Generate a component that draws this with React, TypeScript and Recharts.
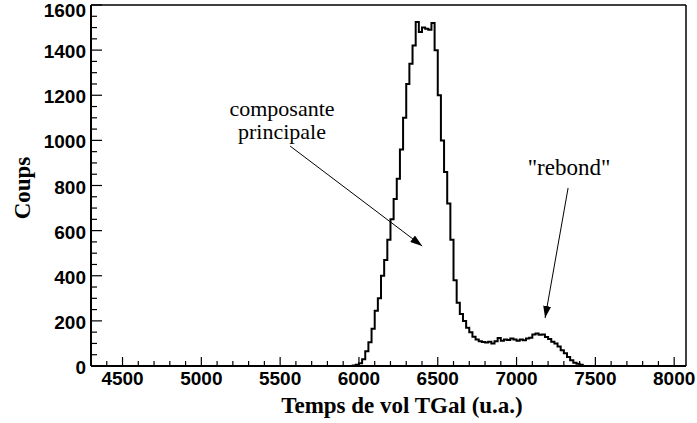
import React from 'react';
import { LineChart, Line, XAxis, YAxis, ReferenceLine } from 'recharts';

// bin start (u.a.), bin width 20
const binStart = [
  5940, 5960, 5980, 6000, 6020, 6040, 6060, 6080, 6100, 6120, 6140, 6160, 6180, 6200, 6220, 6240, 6260, 6280,
  6300, 6320, 6340, 6360, 6380, 6400, 6420, 6440, 6460, 6480, 6500, 6520, 6540, 6560, 6580, 6600, 6620, 6640,
  6660, 6680, 6700, 6720, 6740, 6760, 6780, 6800, 6820, 6840, 6860, 6880, 6900, 6920, 6940, 6960, 6980, 7000,
  7020, 7040, 7060, 7080, 7100, 7120, 7140, 7160, 7180, 7200, 7220, 7240, 7260, 7280, 7300, 7320, 7340, 7360,
  7380, 7400, 7420, 7440,
];
const counts = [
  0, 2, 5, 12, 30, 65, 105, 165, 245, 300, 400, 470, 560, 650, 740, 830, 960,
  1100, 1250, 1340, 1420, 1525, 1480, 1500, 1495, 1490, 1520, 1400, 1200, 1000, 860, 720, 560, 380, 280,
  230, 200, 170, 150, 130, 118, 110, 106, 104, 108, 100, 110, 124, 112, 118, 115, 122, 118,
  112, 118, 114, 122, 125, 140, 144, 138, 140, 128, 120, 108, 100, 86, 70, 56, 40, 25,
  14, 10, 6, 0,
];

const xLabels = [4500, 5000, 5500, 6000, 6500, 7000, 7500, 8000];
const yLabels = [0, 200, 400, 600, 800, 1000, 1200, 1400, 1600];

const X_MIN = 4300;
const X_MAX = 8075;
const Y_MAX = 1600;

const xTicks: number[] = [];
for (let v = 4300; v <= 8000; v += 100) xTicks.push(v);
const yTicks: number[] = [];
for (let v = 0; v <= 1600; v += 50) yTicks.push(v);

const data = binStart.map((x, i) => ({ x, count: counts[i] }));

const tickFont = { fontFamily: '"Liberation Sans", Arial, sans-serif', fontWeight: 700, fontSize: 19, fill: '#000' };
const serif = '"Liberation Serif", "Times New Roman", serif';

const XTick = ({ x, y, payload }: any) => {
  const major = xLabels.includes(payload.value);
  return (
    <g>
      <line x1={x} x2={x} y1={y} y2={y - (major ? 9 : 5)} stroke="#000" strokeWidth={1.2} />
      {major && (
        <text x={x} y={y + 19} textAnchor="middle" {...tickFont}>
          {payload.value}
        </text>
      )}
    </g>
  );
};

const YTick = ({ x, y, payload }: any) => {
  const major = yLabels.includes(payload.value);
  // keep the top label inside the picture
  const ty = Math.max(y + 8, 17);
  return (
    <g>
      <line x1={x} x2={x + (major ? 11 : 6)} y1={y} y2={y} stroke="#000" strokeWidth={1.2} />
      {major && (
        <text x={x - 5} y={ty} textAnchor="end" {...tickFont}>
          {payload.value}
        </text>
      )}
    </g>
  );
};

export default function App() {
  return (
    <div style={{ position: 'absolute', left: 0, top: 0, background: '#fff' }}>
      <LineChart width={697} height={423} data={data} margin={{ top: 5, right: 11, left: 0, bottom: 0 }}>
        <defs>
          <marker id="arrowHead" viewBox="0 0 12 8" refX="12" refY="4" markerWidth="12" markerHeight="8" markerUnits="userSpaceOnUse" orient="auto">
            <path d="M0,0 L12,4 L0,8 Z" fill="#000" />
          </marker>
        </defs>
        <XAxis
          dataKey="x"
          type="number"
          domain={[X_MIN, X_MAX]}
          allowDataOverflow
          ticks={xTicks}
          interval={0}
          tickSize={0}
          tickMargin={0}
          tick={<XTick />}
          height={57}
          axisLine={{ stroke: '#000', strokeWidth: 2 }}
        />
        <YAxis
          type="number"
          domain={[0, Y_MAX]}
          allowDataOverflow
          ticks={yTicks}
          interval={0}
          tickSize={0}
          tickMargin={0}
          tick={<YTick />}
          width={91}
          axisLine={{ stroke: '#000', strokeWidth: 2 }}
        />
        <ReferenceLine y={Y_MAX} stroke="#000" strokeWidth={1.5} />
        <ReferenceLine x={X_MAX} stroke="#000" strokeWidth={1.5} />
        <Line
          type="stepAfter"
          dataKey="count"
          stroke="#000"
          strokeWidth={2}
          dot={false}
          isAnimationActive={false}
        />
        <ReferenceLine
          segment={[{ x: 5563, y: 975 }, { x: 6401, y: 532 }]}
          stroke="#000"
          strokeWidth={1}
          markerEnd="url(#arrowHead)"
        />
        <ReferenceLine
          segment={[{ x: 7327, y: 789 }, { x: 7181, y: 213 }]}
          stroke="#000"
          strokeWidth={1}
          markerEnd="url(#arrowHead)"
        />
        <text x={282} y={116} textAnchor="middle" fontFamily={serif} fontSize={22} fill="#000">composante</text>
        <text x={282} y={139} textAnchor="middle" fontFamily={serif} fontSize={22} fill="#000">principale</text>
        <text x={569} y={175} textAnchor="middle" fontFamily={serif} fontSize={23} fill="#000">"rebond"</text>
        <text x={402} y={413} textAnchor="middle" fontFamily={serif} fontWeight={700} fontSize={23} fill="#000">
          Temps de vol TGal (u.a.)
        </text>
        <text x={30} y={188} textAnchor="middle" fontFamily={serif} fontWeight={700} fontSize={23} fill="#000" transform="rotate(-90, 30, 188)">
          Coups
        </text>
      </LineChart>
    </div>
  );
}
